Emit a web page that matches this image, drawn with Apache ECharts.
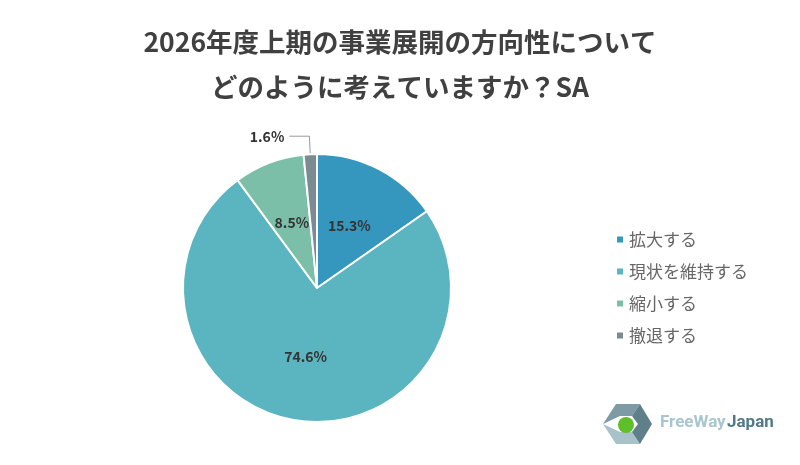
<!DOCTYPE html>
<html><head><meta charset="utf-8">
<script src="https://cdn.jsdelivr.net/npm/echarts@6/dist/echarts.min.js"></script>
<style>html,body{margin:0;padding:0;background:#fff}#c{width:800px;height:465px}</style>
</head><body><div id="c"></div>
<script>
var titleLines = ['2026年度上期の事業展開の方向性について', 'どのように考えていますか？SA'];
var categories = ['拡大する', '現状を維持する', '縮小する', '撤退する'];
var values = [15.3, 74.6, 8.5, 1.6];
var colors = ['#3597bd', '#5bb5c0', '#7bbfa8', '#7c8a92'];

var font = '"Noto Sans CJK JP", sans-serif';
var chart = echarts.init(document.getElementById('c'));
var data = categories.map(function (n, i) {
    var d = { name: n, value: values[i], itemStyle: { color: colors[i] } };
    if (i === 3) {
        d.label = { position: 'outside', color: '#333' };
        d.labelLine = { show: true, length: 18, length2: 20, lineStyle: { color: '#999' } };
    }
    return d;
});
chart.setOption({
    animation: false,
    textStyle: { fontFamily: font },
    title: {
        text: titleLines.join('\n'),
        left: 'center', top: 14,
        textStyle: { fontSize: 26.5, fontWeight: 'bold', color: '#404040', lineHeight: 45, fontFamily: font }
    },
    legend: {
        orient: 'vertical', left: 610, top: 226, itemGap: 15,
        itemWidth: 8, itemHeight: 8, icon: 'rect',
        textStyle: { fontSize: 17, color: '#666', fontFamily: font },
        data: categories
    },
    series: [{
        type: 'pie', center: [317, 288], radius: 134,
        startAngle: 90, clockwise: true,
        itemStyle: { borderColor: '#fff', borderWidth: 2 },
        label: {
            show: true, position: 'inside', fontSize: 14, fontWeight: 'bold', color: '#333',
            formatter: function (p) { return p.value.toFixed(1) + '%'; }
        },
        labelLine: { show: false },
        data: data
    }],
    graphic: [
        { type: 'polygon', shape: { points: [[603, 424], [616, 404], [640, 404], [632, 416], [620, 416]] }, style: { fill: '#7e9aa5' } },
        { type: 'polygon', shape: { points: [[603, 424], [616, 444], [640, 444], [632, 432], [620, 432]] }, style: { fill: '#a9c1c9' } },
        { type: 'polygon', shape: { points: [[640, 404], [652, 424], [640, 444], [632, 432], [638, 424], [632, 416]] }, style: { fill: '#5f7f8b' } },
        { type: 'circle', shape: { cx: 626, cy: 425, r: 8 }, style: { fill: '#5fbf2a' } },
        { type: 'text', x: 660, y: 414, style: { text: 'FreeWay', fontSize: 17, fontWeight: 'bold', fill: '#a8c6d0', fontFamily: 'Roboto' } },
        { type: 'text', x: 727, y: 414, style: { text: 'Japan', fontSize: 17, fontWeight: 'bold', fill: '#4f7a88', fontFamily: 'Roboto' } }
    ]
});
</script></body></html>
